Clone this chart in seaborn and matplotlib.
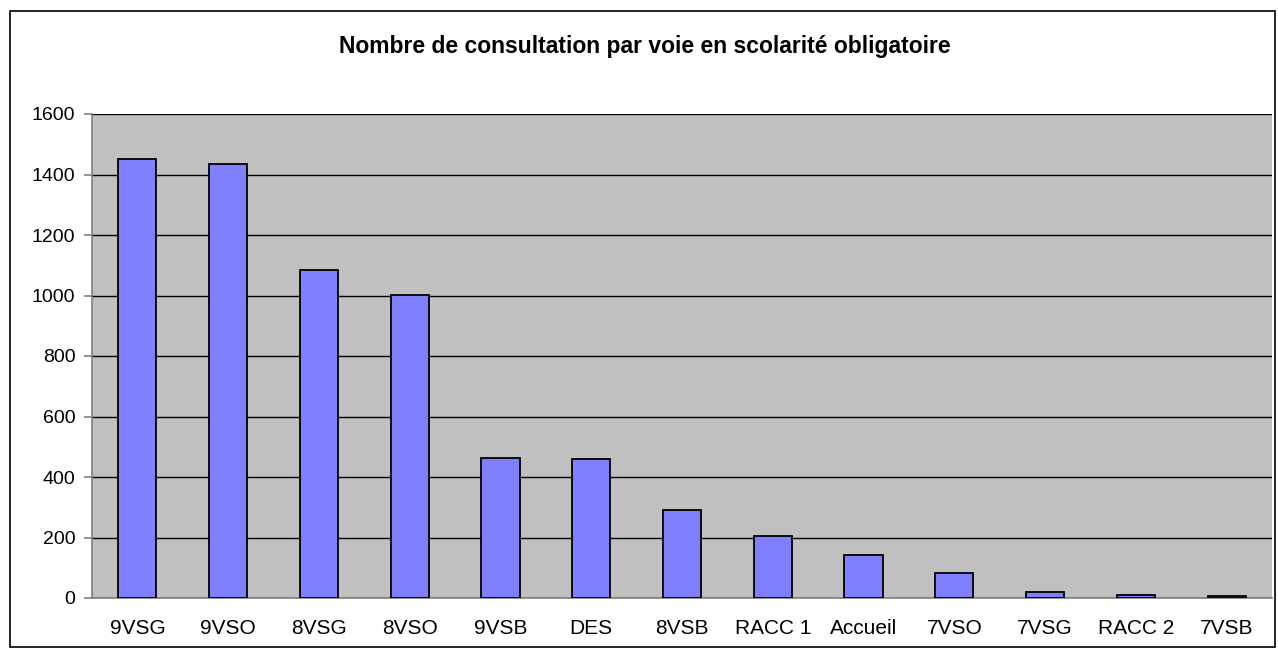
import matplotlib
matplotlib.use("Agg")
import matplotlib.pyplot as plt
import numpy as np
import pandas as pd
import seaborn as sns
from matplotlib.patches import Rectangle

voies = ["9VSG", "9VSO", "8VSG", "8VSO", "9VSB", "DES", "8VSB",
         "RACC 1", "Accueil", "7VSO", "7VSG", "RACC 2", "7VSB"]
consultations = [1451, 1436, 1084, 1001, 463, 458, 290, 204, 142, 83, 21, 11, 5]
y_ticks = [0, 200, 400, 600, 800, 1000, 1200, 1400, 1600]

df = pd.DataFrame({"voie": voies, "n": consultations})

sns.set_style("white")
plt.rcParams["font.family"] = ["Liberation Sans", "DejaVu Sans"]
plt.rcParams["text.color"] = "black"
plt.rcParams["xtick.color"] = "black"
plt.rcParams["ytick.color"] = "black"

fig = plt.figure(figsize=(12.78, 6.56), dpi=100)
ax = fig.add_axes([92 / 1278, 58 / 656, 1180 / 1278, 484 / 656])

sns.barplot(data=df, x="voie", y="n", ax=ax, color="#8080FF", saturation=1,
            width=0.42, edgecolor="black", linewidth=1.3, zorder=3)

ax.set_facecolor("#C0C0C0")
ax.set_ylim(0, 1600)
ax.set_xlim(-0.5, len(voies) - 0.5)
ax.set_yticks(y_ticks)
ax.yaxis.grid(True, color="black", linewidth=1, zorder=1)
ax.set_axisbelow(True)
for s in ["top", "right"]:
    ax.spines[s].set_visible(False)
for s in ["left", "bottom"]:
    ax.spines[s].set_color("#808080")
    ax.spines[s].set_linewidth(1.2)

ax.set_xlabel("")
ax.set_ylabel("")
ax.tick_params(axis="x", which="major", length=0, labelsize=15, labelcolor="black", pad=15)
ax.set_xticks(np.arange(len(voies) + 1) - 0.5, minor=True)
ax.tick_params(axis="x", which="minor", length=6, color="#808080", width=1.2)
ax.tick_params(axis="y", length=6, color="#808080", width=1.2, labelsize=14,
               labelcolor="black", pad=6, left=True)

fig.text(644.7 / 1278, 1 - 46 / 656,
         "Nombre de consultation par voie en scolarité obligatoire",
         ha="center", va="center", fontsize=16.5, fontweight="bold", color="black")

fig.patches.append(Rectangle((10 / 1278, 9 / 656), 1265 / 1278, 636 / 656,
                             transform=fig.transFigure, fill=False,
                             edgecolor="black", linewidth=1.2))

fig.savefig("out.png", dpi=100)
plt.close(fig)
